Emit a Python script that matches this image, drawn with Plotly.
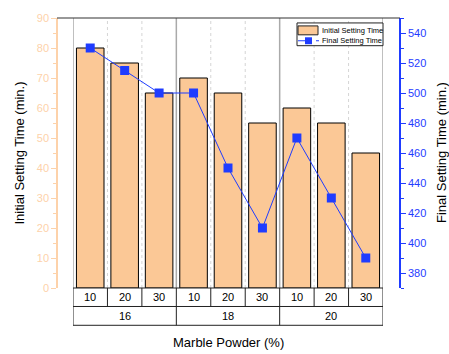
import plotly.graph_objects as go

groups = ["16", "16", "16", "18", "18", "18", "20", "20", "20"]
subs = ["10", "20", "30", "10", "20", "30", "10", "20", "30"]
group_labels = ["16", "18", "20"]
initial_time = [80, 75, 65, 70, 65, 55, 60, 55, 45]
final_time = [530, 515, 500, 500, 450, 410, 470, 430, 390]
series_names = ["Initial Setting Time", "Final Setting Time"]

xi = list(range(len(subs)))
FONT = "Liberation Sans, Arial, sans-serif"
ORANGE_AX = "#fdd2aa"
BLUE = "#1f3cff"
BAR = "#fbc896"

fig = go.Figure()
fig.add_trace(go.Bar(
    x=xi, y=initial_time, name=series_names[0],
    marker=dict(color=BAR, line=dict(color="black", width=1)),
    width=0.8, yaxis="y", showlegend=False,
))
fig.add_trace(go.Scatter(
    x=xi, y=final_time, name=series_names[1], mode="lines+markers",
    line=dict(color=BLUE, width=1),
    marker=dict(symbol="square", size=9, color=BLUE),
    yaxis="y2", showlegend=False,
))

W, H = 449, 354
ml, mr, mt, mb = 57, 49, 15, 66
pw = W - ml - mr
ph = H - mt - mb
d0 = (73 - ml) / pw
d1 = (383 - ml) / pw


def px(x):
    return (x - ml) / pw


def py(y):
    return 1 - (y - mt) / ph


shapes = []
# vertical separators in plot
for b in [-0.5, 2.5, 5.5, 8.5]:
    shapes.append(dict(type="line", xref="x", yref="paper", x0=b, x1=b, y0=0, y1=1,
                       line=dict(color="#aaaaaa", width=1.5), layer="below"))
for b in [0.5, 1.5, 3.5, 4.5, 6.5, 7.5]:
    shapes.append(dict(type="line", xref="x", yref="paper", x0=b, x1=b, y0=0, y1=1,
                       line=dict(color="#d5d5d5", width=1, dash="dot"), layer="below"))
# top frame line
shapes.append(dict(type="line", xref="paper", yref="paper", x0=0, x1=1, y0=1, y1=1,
                   line=dict(color="#333333", width=1.2)))
# table
r1 = -18.7 / ph
r2 = -37.7 / ph
shapes.append(dict(type="rect", xref="x", yref="paper", x0=-0.5, x1=8.5, y0=r2, y1=0,
                   line=dict(color="#222222", width=1)))
shapes.append(dict(type="line", xref="x", yref="paper", x0=-0.5, x1=8.5, y0=r1, y1=r1,
                   line=dict(color="#222222", width=1)))
for b in [0.5, 1.5, 3.5, 4.5, 6.5, 7.5]:
    shapes.append(dict(type="line", xref="x", yref="paper", x0=b, x1=b, y0=r1, y1=0,
                       line=dict(color="#222222", width=1)))
for b in [2.5, 5.5]:
    shapes.append(dict(type="line", xref="x", yref="paper", x0=b, x1=b, y0=r2, y1=0,
                       line=dict(color="#222222", width=1)))

# legend (drawn)
shapes.append(dict(type="rect", xref="paper", yref="paper", x0=px(297), x1=px(383),
                   y0=py(43), y1=py(20), line=dict(color="#222222", width=1),
                   fillcolor="white"))
shapes.append(dict(type="rect", xref="paper", yref="paper", x0=px(298), x1=px(318),
                   y0=py(32), y1=py(23), line=dict(color="#222222", width=1),
                   fillcolor=BAR))
shapes.append(dict(type="line", xref="paper", yref="paper", x0=px(298), x1=px(319),
                   y0=py(38), y1=py(38), line=dict(color=BLUE, width=1.2, dash="dash")))
shapes.append(dict(type="rect", xref="paper", yref="paper", x0=px(305), x1=px(312),
                   y0=py(41.5), y1=py(34.5), line=dict(color=BLUE, width=0),
                   fillcolor=BLUE))

annotations = []
for i, s in enumerate(subs):
    annotations.append(dict(x=i, y=(r1) / 2, xref="x", yref="paper", text=s, showarrow=False,
                            font=dict(size=11, color="black", family=FONT), yanchor="middle"))
for gi, g in enumerate(group_labels):
    annotations.append(dict(x=gi * 3 + 1, y=(r1 + r2) / 2, xref="x", yref="paper", text=g,
                            showarrow=False, font=dict(size=11, color="black", family=FONT),
                            yanchor="middle"))
annotations.append(dict(x=(d0 + d1) / 2, y=-55 / ph, xref="paper", yref="paper",
                        text="Marble Powder (%)", showarrow=False,
                        font=dict(size=13, color="black", family=FONT), yanchor="middle"))
annotations.append(dict(x=px(441), y=0.5, xref="paper", yref="paper",
                        text="Final Setting Time (min.)", showarrow=False, textangle=-90,
                        font=dict(size=13, color="black", family=FONT),
                        xanchor="center", yanchor="middle"))
for name, yy in zip(series_names, [27.5, 38]):
    annotations.append(dict(x=px(320), y=py(yy), xref="paper", yref="paper", text=name,
                            showarrow=False, xanchor="left", yanchor="middle",
                            font=dict(size=7.5, color="black", family=FONT)))

fig.update_layout(
    width=W, height=H,
    margin=dict(l=ml, r=mr, t=mt, b=mb),
    plot_bgcolor="white", paper_bgcolor="white",
    font=dict(family=FONT, size=11, color="black"),
    bargap=0.2,
    xaxis=dict(domain=[d0, d1], range=[-0.5, 8.5], showticklabels=False, ticks="",
               showgrid=False, zeroline=False, showline=False),
    xaxis2=dict(domain=[d0, d1], range=[-0.5, 8.5], overlaying="x", side="top",
                tickvals=[v / 2 for v in range(-1, 18)], ticks="inside", ticklen=4,
                tickcolor="#333333", showticklabels=False, showgrid=False,
                zeroline=False, showline=False, anchor="y"),
    yaxis=dict(range=[0, 90], anchor="free", position=0, side="left",
               tickvals=list(range(0, 91, 10)), ticks="outside", ticklen=5,
               tickcolor=ORANGE_AX, showline=True, linecolor=ORANGE_AX, linewidth=1.5,
               tickfont=dict(color=ORANGE_AX, size=11, family=FONT),
               minor=dict(dtick=5, ticks="outside", ticklen=3, tickcolor=ORANGE_AX),
               showgrid=False, zeroline=False,
               title=dict(text="Initial Setting Time (min.)", standoff=8,
                          font=dict(size=13, color="black", family=FONT))),
    yaxis2=dict(range=[370, 550], overlaying="y", anchor="free", position=1, side="right",
                tickvals=list(range(380, 541, 20)), ticks="outside", ticklen=5,
                tickcolor=BLUE, showline=True, linecolor=BLUE, linewidth=1.5,
                tickfont=dict(color=BLUE, size=11, family=FONT),
                minor=dict(dtick=10, ticks="outside", ticklen=3, tickcolor=BLUE),
                showgrid=False, zeroline=False),
    shapes=shapes, annotations=annotations, showlegend=False,
)
fig.data[1].update(xaxis="x")
fig.write_html("out.html")
